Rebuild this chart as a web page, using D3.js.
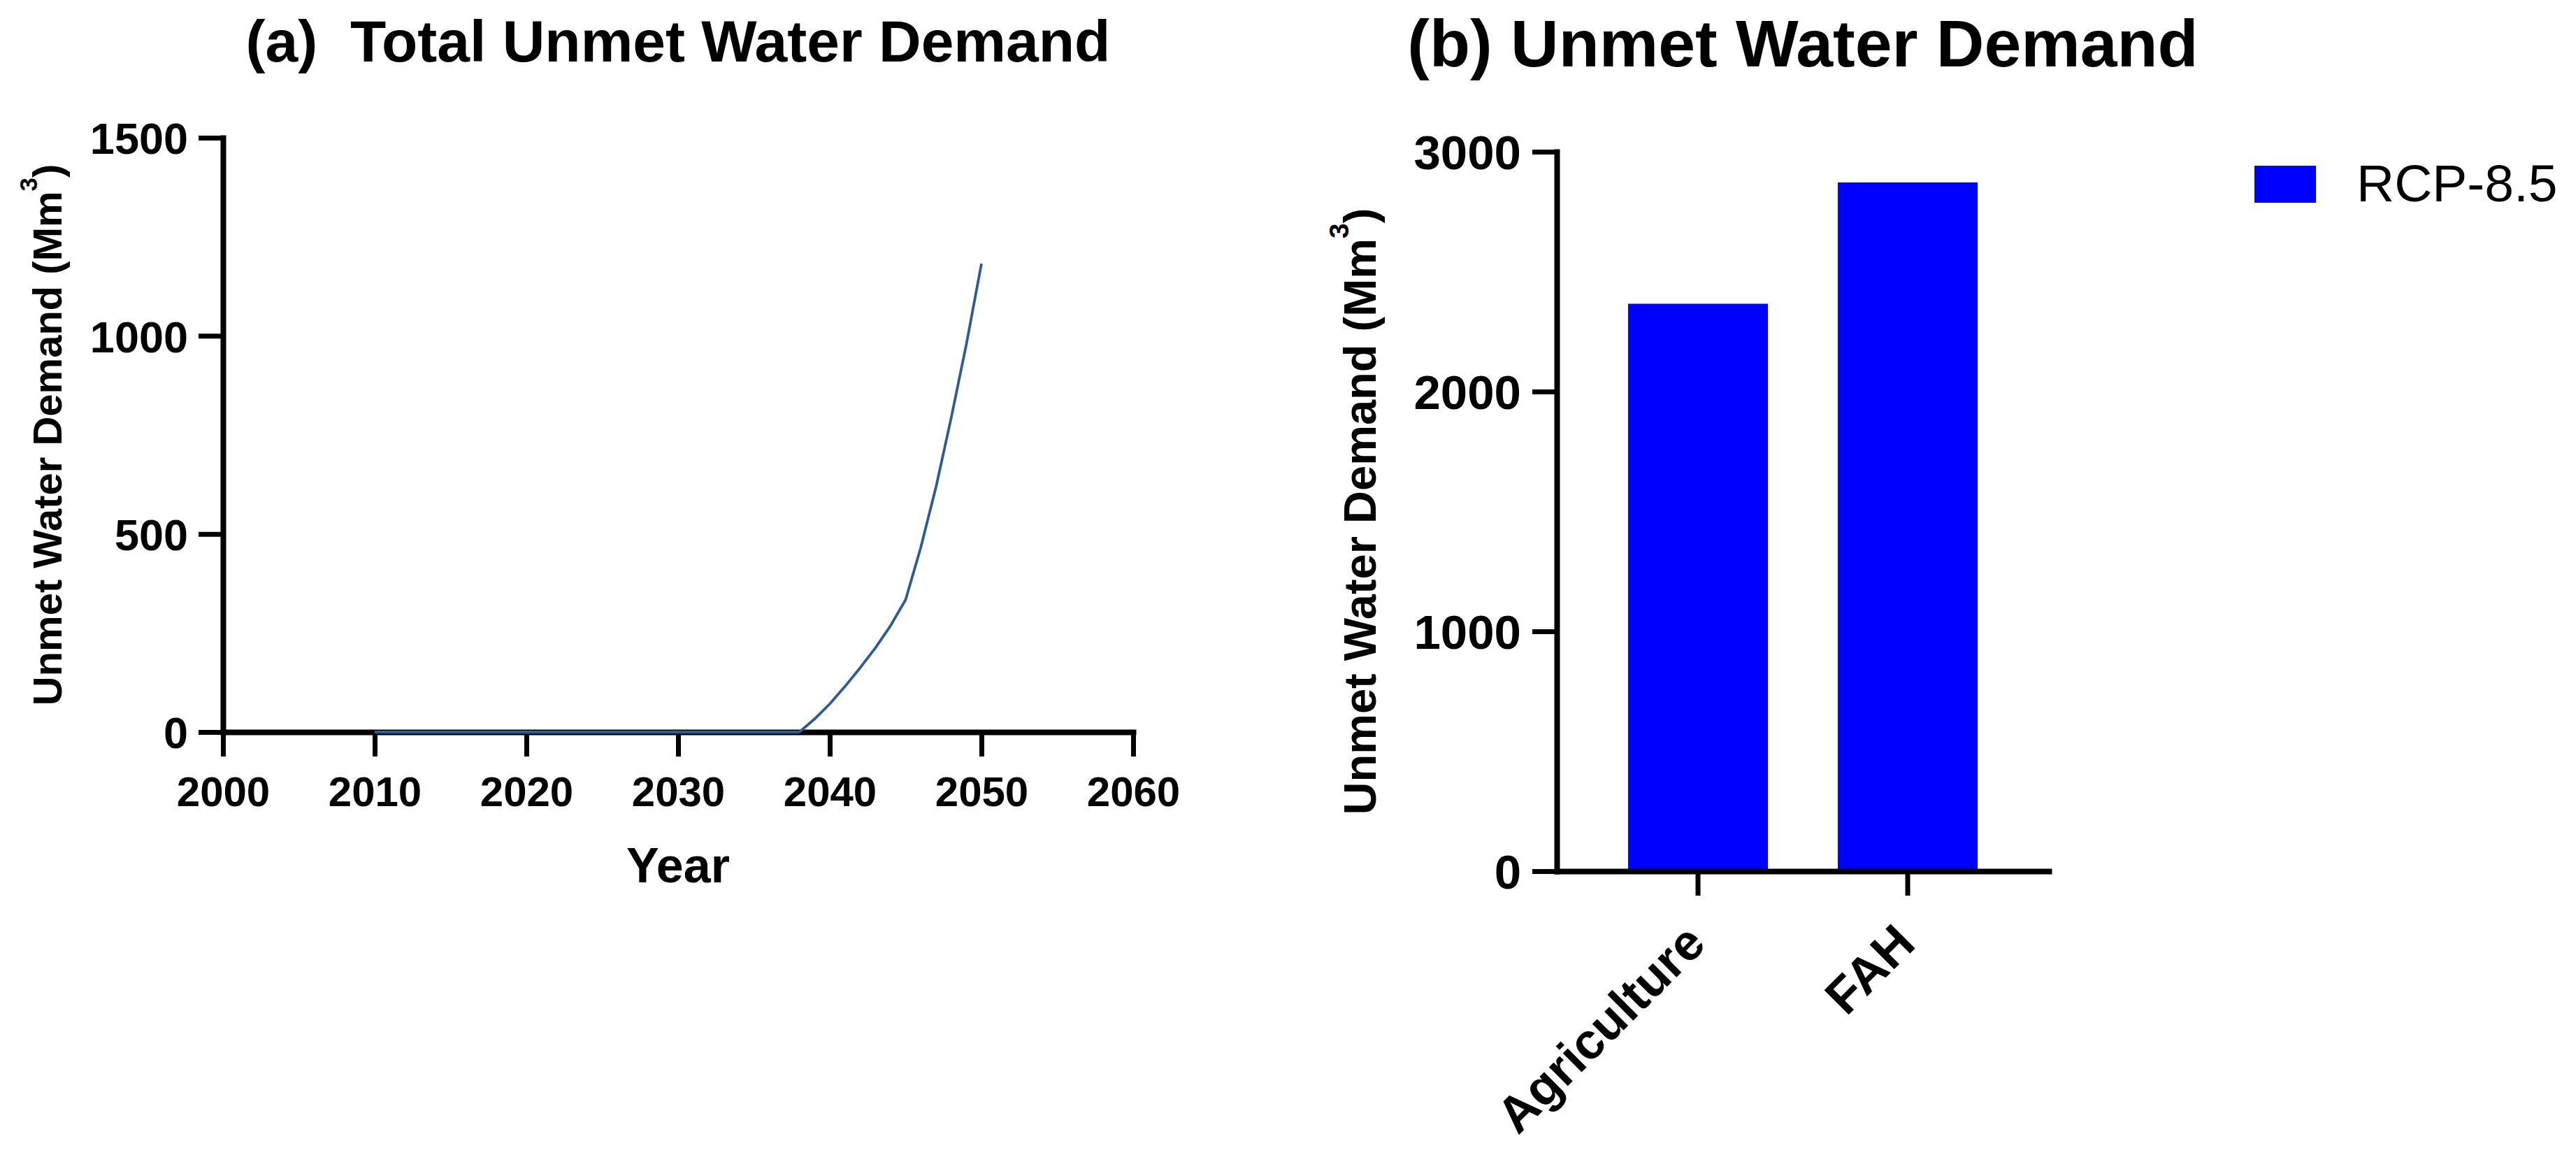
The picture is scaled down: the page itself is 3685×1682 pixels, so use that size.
<!DOCTYPE html>
<html>
<head>
<meta charset="utf-8">
<script src="https://cdn.jsdelivr.net/npm/d3@7"></script>
<style>
  html, body { margin: 0; padding: 0; background: #fff; }
  svg { display: block; }
  text { font-family: "Liberation Sans", Arial, sans-serif; }
</style>
</head>
<body>
<svg id="chart" width="3685" height="1682"></svg>
<script>
// ---------------- data ----------------
const years = [2010, 2011, 2012, 2013, 2014, 2015, 2016, 2017, 2018, 2019,
               2020, 2021, 2022, 2023, 2024, 2025, 2026, 2027, 2028, 2029,
               2030, 2031, 2032, 2033, 2034, 2035, 2036, 2037, 2038, 2039,
               2040, 2041, 2042, 2043, 2044, 2045, 2046, 2047, 2048, 2049, 2050];
const totalUnmet = [0, 0, 0, 0, 0, 0, 0, 0, 0, 0,
                    0, 0, 0, 0, 0, 0, 0, 0, 0, 0,
                    0, 0, 0, 0, 0, 0, 0, 0, 0, 33,
                    71, 115, 162, 212, 268, 334, 466, 618, 792, 978, 1182];
const xTicksA = [2000, 2010, 2020, 2030, 2040, 2050, 2060];
const yTicksA = [0, 500, 1000, 1500];

const sectors = ["Agriculture", "FAH"];
const sectorUnmet = [2366, 2872];
const yTicksB = [0, 1000, 2000, 3000];
const seriesName = "RCP-8.5";

const titleA = "(a)  Total Unmet Water Demand";
const titleB = "(b) Unmet Water Demand";
const yLabel = "Unmet Water Demand (Mm";
const xLabelA = "Year";

// ---------------- drawing ----------------
const svg = d3.select("#chart");
svg.append("rect").attr("width", 3685).attr("height", 1682).attr("fill", "#fff");

const AXW = 8, TICKW = 7, TICKLEN = 35;
const FONT = "Liberation Sans, Arial, sans-serif";

function styleAxis(g) {
  g.select(".domain").attr("stroke", "#000").attr("stroke-width", AXW).attr("stroke-linecap", "square");
  g.selectAll(".tick line").attr("stroke", "#000").attr("stroke-width", TICKW);
}

// ===== Panel (a) =====
const xA = d3.scaleLinear().domain([2000, 2060]).range([319, 1621]);
const yA = d3.scaleLinear().domain([0, 1500]).range([1047, 197]);

const gxA = svg.append("g").attr("transform", `translate(0,${yA(0)})`)
  .call(d3.axisBottom(xA).tickValues(xTicksA).tickFormat(d3.format("d"))
        .tickSize(TICKLEN).tickSizeOuter(0).tickPadding(28));
styleAxis(gxA);
gxA.selectAll(".tick text").attr("font-family", FONT)
  .attr("font-weight", "bold").attr("font-size", 60).attr("fill", "#000");

const gyA = svg.append("g").attr("transform", `translate(${xA(2000)},0)`)
  .call(d3.axisLeft(yA).tickValues(yTicksA).tickFormat(d3.format("d"))
        .tickSize(TICKLEN).tickSizeOuter(0).tickPadding(15));
styleAxis(gyA);
gyA.selectAll(".tick text").attr("font-family", FONT)
  .attr("font-weight", "bold").attr("font-size", 63).attr("fill", "#000").attr("dy", "0.36em");

const line = d3.line().x((d, i) => xA(years[i])).y(d => yA(d));
svg.append("path").datum(totalUnmet)
  .attr("d", line).attr("fill", "none").attr("stroke", "#2d5b96")
  .attr("stroke-width", 3.8).attr("stroke-linejoin", "round");

svg.append("text").attr("x", (xA.range()[0] + xA.range()[1]) / 2).attr("y", 88)
  .attr("text-anchor", "middle").attr("font-weight", "bold").attr("font-size", 84)
  .style("white-space", "pre").text(titleA);

svg.append("text").attr("x", (xA.range()[0] + xA.range()[1]) / 2).attr("y", 1262)
  .attr("text-anchor", "middle").attr("font-weight", "bold").attr("font-size", 70)
  .text(xLabelA);

function yTitle(x, yc, size) {
  const t = svg.append("text").attr("transform", `translate(${x},${yc}) rotate(-90)`)
    .attr("text-anchor", "middle").attr("font-weight", "bold").attr("font-size", size);
  t.append("tspan").text(yLabel);
  t.append("tspan").attr("dy", -size * 0.6).attr("font-size", size * 0.6).text("3");
  t.append("tspan").attr("dy", size * 0.6).text(")");
}
yTitle(88, (yA.range()[0] + yA.range()[1]) / 2, 58);

// ===== Panel (b) =====
const xB = d3.scaleBand().domain(sectors).range([2227, 2931]).paddingInner(1 / 3).paddingOuter(0.34);
const yB = d3.scaleLinear().domain([0, 3000]).range([1246, 217]);

svg.append("g").selectAll("rect").data(sectors).join("rect")
  .attr("x", d => xB(d)).attr("width", xB.bandwidth())
  .attr("y", (d, i) => yB(sectorUnmet[i]))
  .attr("height", (d, i) => yB(0) - yB(sectorUnmet[i]))
  .attr("fill", "#0000ff");

const gxB = svg.append("g").attr("transform", `translate(0,${yB(0)})`)
  .call(d3.axisBottom(xB).tickSize(TICKLEN).tickSizeOuter(0));
styleAxis(gxB);
gxB.selectAll(".tick text")
  .attr("y", null).attr("dy", null)
  .attr("text-anchor", "end")
  .attr("transform", `translate(14,${TICKLEN + 72}) rotate(-45)`)
  .attr("font-family", FONT)
  .attr("font-weight", "bold").attr("font-size", 72).attr("fill", "#000");

const gyB = svg.append("g").attr("transform", `translate(2227,0)`)
  .call(d3.axisLeft(yB).tickValues(yTicksB).tickFormat(d3.format("d"))
        .tickSize(TICKLEN).tickSizeOuter(0).tickPadding(16));
styleAxis(gyB);
gyB.selectAll(".tick text").attr("font-family", FONT)
  .attr("font-weight", "bold").attr("font-size", 69).attr("fill", "#000").attr("dy", "0.36em");

svg.append("text").attr("x", (xB.range()[0] + xB.range()[1]) / 2).attr("y", 95)
  .attr("text-anchor", "middle").attr("font-weight", "bold").attr("font-size", 95)
  .text(titleB);

yTitle(1968, (yB.range()[0] + yB.range()[1]) / 2, 65);

// legend
const lg = svg.append("g").attr("transform", "translate(3225,237)");
lg.append("rect").attr("width", 88).attr("height", 53).attr("fill", "#0000ff");
lg.append("text").attr("x", 146).attr("y", 51).attr("font-size", 75).attr("fill", "#000").text(seriesName);
</script>
</body>
</html>
